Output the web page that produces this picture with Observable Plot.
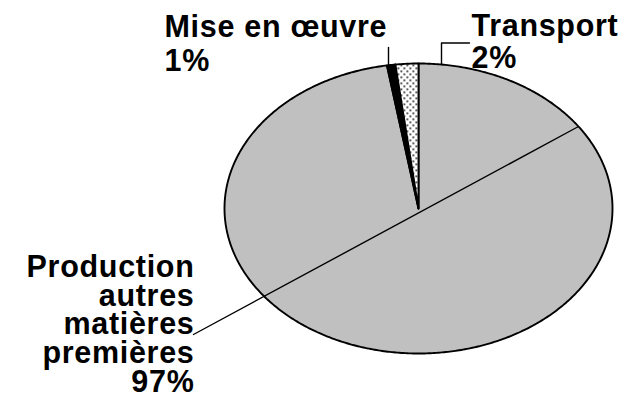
<!DOCTYPE html>
<html>
<head>
<meta charset="utf-8">
<script src="https://cdn.jsdelivr.net/npm/d3@7"></script>
<script src="https://cdn.jsdelivr.net/npm/@observablehq/plot@0.6"></script>
<style>
  html, body { margin: 0; padding: 0; background: #fff; }
  #chart svg { display: block; }
  #chart svg text { letter-spacing: 0.7px; }
</style>
</head>
<body>
<div id="chart"></div>
<script>
// ---- data ----
const categories = ["Production autres matières premières", "Mise en œuvre", "Transport"];
const shares = [97.4, 0.7, 1.9];
const labelLines = [
  ["Production", "autres", "matières", "premières"],
  ["Mise en œuvre"],
  ["Transport"]
];
const sliceFills = ["#c0c0c0", "#000000", "url(#dots)"];

// ---- layout ----
const W = 635, H = 406;
const cx = 418, cy = 208, rx = 194, ry = 145;

// slices: clockwise from 12 o'clock, as in the original spreadsheet chart
const total = d3.sum(shares);
let acc = 0;
const slicePts = [];
categories.forEach((c, i) => {
  const a0 = acc / total * 2 * Math.PI;
  acc += shares[i];
  const a1 = acc / total * 2 * Math.PI;
  const n = Math.max(2, Math.ceil((a1 - a0) / 0.01));
  slicePts.push({cat: c, x: cx, y: cy});
  for (let k = 0; k <= n; k++) {
    const a = a0 + (a1 - a0) * k / n;
    slicePts.push({cat: c, x: cx + rx * Math.sin(a), y: cy - ry * Math.cos(a)});
  }
});

const labels = categories.map((c, i) => ({
  cat: c,
  text: labelLines[i].join("\n") + "\n" + Math.round(shares[i]) + "%"
}));

// label anchors (layout)
const labelPos = {
  [categories[0]]: {x: 194, y: 256, anchor: "end", lh: 0.94},
  [categories[1]]: {x: 164, y: 12.5, anchor: "start", lh: 1.11},
  [categories[2]]: {x: 471, y: 12.5, anchor: "start", lh: 1.05}
};

// leader lines (layout)
const leaders = [
  {id: 0, x: 193, y: 334}, {id: 0, x: 578, y: 126},
  {id: 1, x: 388, y: 47}, {id: 1, x: 388, y: 64},
  {id: 2, x: 441, y: 64}, {id: 2, x: 441, y: 42.5}, {id: 2, x: 469, y: 42.5}
];

const textMark = (cat) => {
  const p = labelPos[cat];
  return Plot.text(labels.filter(d => d.cat === cat), {
    x: () => p.x, y: () => p.y, text: "text",
    textAnchor: p.anchor, lineAnchor: "top", lineHeight: p.lh,
    fontSize: 30.5, fontWeight: "bold", fill: "#000"
  });
};

const chart = Plot.plot({
  width: W, height: H,
  margin: 0,
  x: {domain: [0, W], range: [0, W], axis: null},
  y: {domain: [0, H], range: [0, H], axis: null},
  color: {domain: categories, range: sliceFills},
  style: {fontFamily: "'Liberation Sans', Arial, sans-serif", background: "#fff"},
  marks: [
    Plot.line(slicePts, {x: "x", y: "y", z: "cat", fill: "cat", stroke: "#000", strokeWidth: 1.9, curve: "linear-closed", strokeLinejoin: "round"}),
    Plot.line(leaders, {x: "x", y: "y", z: "id", stroke: "#000", strokeWidth: 1.4}),
    ...categories.map(textMark)
  ]
});

// dotted pattern for the Transport slice
const ns = "http://www.w3.org/2000/svg";
const defs = document.createElementNS(ns, "defs");
defs.innerHTML = '<pattern id="dots" width="6" height="6" patternUnits="userSpaceOnUse">' +
  '<rect width="6" height="6" fill="#fff"/>' +
  '<rect x="1" y="1" width="1.6" height="1.6" fill="#000"/>' +
  '<rect x="4" y="4" width="1.6" height="1.6" fill="#000"/></pattern>';
chart.insertBefore(defs, chart.firstChild);

document.getElementById("chart").appendChild(chart);
</script>
</body>
</html>
